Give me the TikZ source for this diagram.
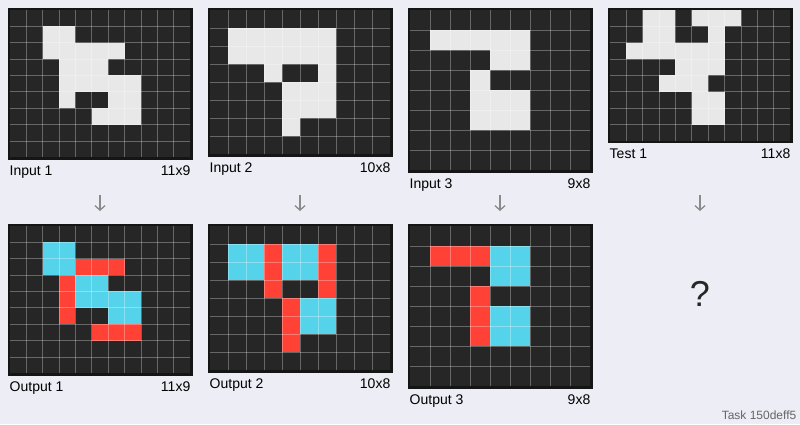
\documentclass[tikz,border=0pt]{standalone}
\usepackage{fontspec}
\setmainfont{Liberation Sans}
\usetikzlibrary{arrows.meta}
\definecolor{bg}{HTML}{EDEDF5}
\definecolor{cellbk}{HTML}{262626}
\definecolor{cellw}{HTML}{E8E8E8}
\definecolor{cellc}{HTML}{55D3EB}
\definecolor{cellr}{HTML}{FF4136}
\definecolor{framec}{HTML}{151515}
\definecolor{arrc}{HTML}{8A8A8A}
\definecolor{taskc}{HTML}{666666}
\tikzset{
  gridln/.style={draw=white, draw opacity=0.3, line width=0.8pt},
  framebox/.style={draw=framec, line width=2.5pt, inner sep=0pt, outer sep=0pt, fill=none},
  lbl/.style={font=\fontsize{14}{16}\selectfont, text=black, inner sep=0pt},
  arrowst/.style={draw=arrc, line width=1.3pt, -{Straight Barb[length=4.5pt,width=10pt]}},
}
\newcommand\panelstart[5]{%
  \def\pnx{#2}\def\pny{#3}%
  \pgfmathsetmacro\pcs{180/#4}%
  \pgfmathsetmacro\pph{#5*180/#4}%
  \fill[cellbk] ({\pnx+10},{\pny}) rectangle ++(180,\pph);%
}
\newcommand\cellfill[2]{%
  \foreach \ci/\cj in {#2}{\fill[#1] ({\pnx+10+\ci*\pcs},{\pny+\cj*\pcs}) rectangle ++(\pcs,\pcs);}%
}
\newcommand\panelend[5]{%
  \pgfmathtruncatemacro\pcm{#2-1}%
  \pgfmathtruncatemacro\prm{#3-1}%
  \foreach \k in {1,...,\pcm}{\draw[gridln] ({\pnx+10+\k*\pcs},{\pny}) -- ++(0,\pph);}%
  \foreach \k in {1,...,\prm}{\draw[gridln] ({\pnx+10},{\pny+\k*\pcs}) -- ++(180,0);}%
  \node[framebox, minimum width=182.5, minimum height=\pph+2.5, anchor=north west] (#1) at ({\pnx+8.75},{\pny-1.25}) {};%
  \node[lbl, anchor=base west] (#1l) at ({\pnx+9.5},{\pny+\pph+18}) {#4};%
  \node[lbl, anchor=base east] (#1d) at ({\pnx+190.5},{\pny+\pph+18}) {#5};%
}
\begin{document}
\begin{tikzpicture}[x=1pt,y=-1pt]
\fill[bg] (0,0) rectangle (800,424);
\useasboundingbox (0,0) rectangle (800,424);

% Input 1
\panelstart{in1}{0}{10}{11}{9}
\cellfill{cellw}{2/1,3/1,2/2,3/2,4/2,5/2,6/2,3/3,4/3,5/3,3/4,4/4,5/4,6/4,7/4,3/5,6/5,7/5,5/6,6/6,7/6}
\panelend{in1}{11}{9}{Input 1}{11x9}

% Output 1
\panelstart{out1}{0}{226}{11}{9}
\cellfill{cellc}{2/1,3/1,2/2,3/2,4/3,5/3,4/4,5/4,6/4,7/4,6/5,7/5}
\cellfill{cellr}{4/2,5/2,6/2,3/3,3/4,3/5,5/6,6/6,7/6}
\panelend{out1}{11}{9}{Output 1}{11x9}

% Input 2
\panelstart{in2}{200}{10}{10}{8}
\cellfill{cellw}{1/1,2/1,3/1,4/1,5/1,6/1,1/2,2/2,3/2,4/2,5/2,6/2,3/3,6/3,4/4,5/4,6/4,4/5,5/5,6/5,4/6}
\panelend{in2}{10}{8}{Input 2}{10x8}

% Output 2
\panelstart{out2}{200}{226}{10}{8}
\cellfill{cellc}{1/1,2/1,1/2,2/2,4/1,5/1,4/2,5/2,5/4,6/4,5/5,6/5}
\cellfill{cellr}{3/1,3/2,3/3,6/1,6/2,6/3,4/4,4/5,4/6}
\panelend{out2}{10}{8}{Output 2}{10x8}

% Input 3
\panelstart{in3}{400}{10}{9}{8}
\cellfill{cellw}{1/1,2/1,3/1,4/1,5/1,4/2,5/2,3/3,3/4,4/4,5/4,3/5,4/5,5/5}
\panelend{in3}{9}{8}{Input 3}{9x8}

% Output 3
\panelstart{out3}{400}{226}{9}{8}
\cellfill{cellr}{1/1,2/1,3/1,3/3,3/4,3/5}
\cellfill{cellc}{4/1,5/1,4/2,5/2,4/4,5/4,4/5,5/5}
\panelend{out3}{9}{8}{Output 3}{9x8}

% Test 1
\panelstart{test1}{600}{10}{11}{8}
\cellfill{cellw}{2/0,3/0,5/0,6/0,7/0,2/1,3/1,6/1,1/2,2/2,3/2,4/2,5/2,6/2,4/3,5/3,6/3,3/4,4/4,5/4,5/5,6/5,5/6,6/6}
\panelend{test1}{11}{8}{Test 1}{11x8}

% arrows
\coordinate (a1s) at (100,195); \coordinate (a1e) at (100,211);
\coordinate (a2s) at (300,195); \coordinate (a2e) at (300,211);
\coordinate (a3s) at (500,195); \coordinate (a3e) at (500,211);
\coordinate (a4s) at (700,195); \coordinate (a4e) at (700,211);
\draw[arrowst] (a1s) -- (a1e);
\draw[arrowst] (a2s) -- (a2e);
\draw[arrowst] (a3s) -- (a3e);
\draw[arrowst] (a4s) -- (a4e);

\node[font=\fontsize{36}{40}\selectfont, text=black!85, inner sep=0pt, anchor=base] (q) at (700,306) {?};
\node[font=\fontsize{12}{14}\selectfont, text=taskc, inner sep=0pt, anchor=base east] (task) at (796.5,419) {Task 150deff5};
\end{tikzpicture}
\end{document}
